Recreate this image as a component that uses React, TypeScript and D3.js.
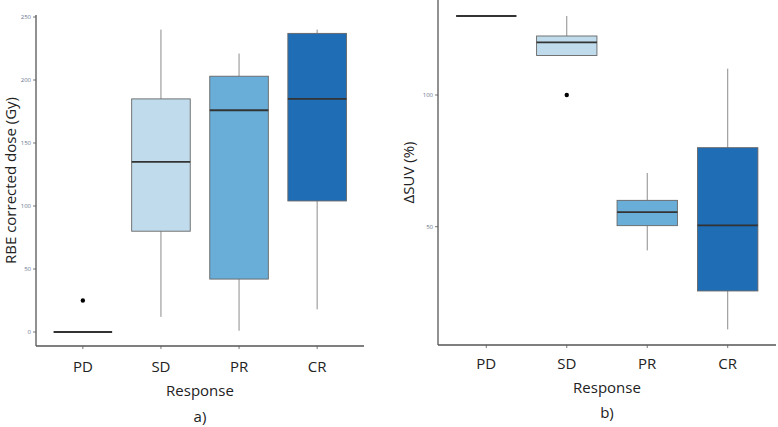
import React from "react";
import * as d3 from "d3";

const categories = ["PD", "SD", "PR", "CR"];
const fills = ["#c0dcec", "#c0dcec", "#68aed8", "#1f6db5"];

// Panel a) RBE corrected dose (Gy)
const doseMin = [0, 12, 1, 18];
const doseQ1 = [0, 80, 42, 104];
const doseMedian = [0, 135, 176, 185];
const doseQ3 = [0, 185, 203, 237];
const doseMax = [0, 240, 221, 240];
const doseOutliers = [[25], [], [], []];
const doseTicks = [0, 50, 100, 150, 200, 250];

// Panel b) ΔSUV (%)
const suvMin = [130, 115, 41, 11];
const suvQ1 = [130, 115, 50.4, 25.6];
const suvMedian = [130, 120, 55.5, 50.5];
const suvQ3 = [130, 122.4, 60, 80];
const suvMax = [130, 130, 70.4, 110];
const suvOutliers = [[], [100], [], []];
const suvTicks = [50, 100];

type PanelProps = {
  left: number;
  right: number;
  top: number;
  bottom: number;
  y: d3.ScaleLinear<number, number>;
  ticks: number[];
  mins: number[];
  q1: number[];
  med: number[];
  q3: number[];
  maxs: number[];
  outliers: number[][];
  yTitle: string;
  yTitleX: number;
  catLabelY: number;
  xTitleY: number;
  panelLabel: string;
  panelLabelY: number;
  tickLabelRight: number;
};

function Panel(p: PanelProps) {
  const x = d3
    .scalePoint<string>()
    .domain(categories)
    .range([p.left, p.right])
    .padding(0.6); // ggplot discrete expansion 0.6 on each side
  const step = x.step();
  const bw = step * 0.75;
  const midY = (p.top + p.bottom) / 2;
  const font = "'Open Sans', sans-serif";
  return (
    <g>
      {categories.map((c, i) => {
        const cx = x(c)!;
        const yq1 = p.y(p.q1[i]);
        const yq3 = p.y(p.q3[i]);
        return (
          <g key={c}>
            <line x1={cx} x2={cx} y1={p.y(p.maxs[i])} y2={yq3} stroke="#8c8c8c" strokeWidth={1} />
            <line x1={cx} x2={cx} y1={yq1} y2={p.y(p.mins[i])} stroke="#8c8c8c" strokeWidth={1} />
            {yq1 - yq3 > 0.5 && (
              <rect
                x={cx - bw / 2}
                y={yq3}
                width={bw}
                height={yq1 - yq3}
                fill={fills[i]}
                stroke="#666"
                strokeWidth={0.9}
              />
            )}
            <line
              x1={cx - bw / 2}
              x2={cx + bw / 2}
              y1={p.y(p.med[i])}
              y2={p.y(p.med[i])}
              stroke="#333"
              strokeWidth={1.8}
            />
            {p.outliers[i].map((v, j) => (
              <circle key={j} cx={cx} cy={p.y(v)} r={2.2} fill="#000" />
            ))}
          </g>
        );
      })}
      {/* axes */}
      <line x1={p.left} x2={p.left} y1={p.top} y2={p.bottom} stroke="#555" strokeWidth={1.3} />
      <line x1={p.left} x2={p.right} y1={p.bottom} y2={p.bottom} stroke="#555" strokeWidth={1.3} />
      {p.ticks.map((t) => (
        <g key={t}>
          <line x1={p.left - 3} x2={p.left} y1={p.y(t)} y2={p.y(t)} stroke="#555" strokeWidth={0.8} />
          <text
            x={p.tickLabelRight}
            y={p.y(t)}
            dy="0.35em"
            textAnchor="end"
            fontSize={6}
            fill="#6b7590"
            fontFamily={font}
          >
            {t}
          </text>
        </g>
      ))}
      {categories.map((c) => (
        <g key={c}>
          <line x1={x(c)!} x2={x(c)!} y1={p.bottom} y2={p.bottom + 3} stroke="#555" strokeWidth={0.8} />
          <text
            x={x(c)!}
            y={p.catLabelY}
            dy="0.35em"
            textAnchor="middle"
            fontSize={15}
            fill="#222"
            fontFamily={font}
          >
            {c}
          </text>
        </g>
      ))}
      <text
        x={(p.left + p.right) / 2}
        y={p.xTitleY}
        dy="0.35em"
        textAnchor="middle"
        fontSize={15}
        fill="#222"
        fontFamily={font}
      >
        Response
      </text>
      <text
        x={(p.left + p.right) / 2}
        y={p.panelLabelY}
        dy="0.35em"
        textAnchor="middle"
        fontSize={15}
        fill="#222"
        fontFamily={font}
      >
        {p.panelLabel}
      </text>
      <text
        transform={`translate(${p.yTitleX},${midY}) rotate(-90)`}
        dy="0.35em"
        textAnchor="middle"
        fontSize={15}
        fill="#222"
        fontFamily={font}
      >
        {p.yTitle}
      </text>
    </g>
  );
}

export default function App() {
  const yDose = d3.scaleLinear().domain([0, 250]).range([332, 17]);
  const ySuv = d3.scaleLinear().domain([50, 100]).range([226.7, 95]);
  return (
    <svg
      width={778}
      height={427}
      style={{ position: "absolute", left: 0, top: 0, background: "#fff" }}
    >
      <rect width={778} height={427} fill="#fff" />
      <Panel
        left={36}
        right={364}
        top={15}
        bottom={346}
        y={yDose}
        ticks={doseTicks}
        mins={doseMin}
        q1={doseQ1}
        med={doseMedian}
        q3={doseQ3}
        maxs={doseMax}
        outliers={doseOutliers}
        yTitle="RBE corrected dose (Gy)"
        yTitleX={11}
        catLabelY={367}
        xTitleY={391}
        panelLabel="a)"
        panelLabelY={417}
        tickLabelRight={31}
      />
      <Panel
        left={438}
        right={776}
        top={0}
        bottom={345}
        y={ySuv}
        ticks={suvTicks}
        mins={suvMin}
        q1={suvQ1}
        med={suvMedian}
        q3={suvQ3}
        maxs={suvMax}
        outliers={suvOutliers}
        yTitle="ΔSUV (%)"
        yTitleX={409}
        catLabelY={364}
        xTitleY={388}
        panelLabel="b)"
        panelLabelY={413}
        tickLabelRight={433}
      />
    </svg>
  );
}
